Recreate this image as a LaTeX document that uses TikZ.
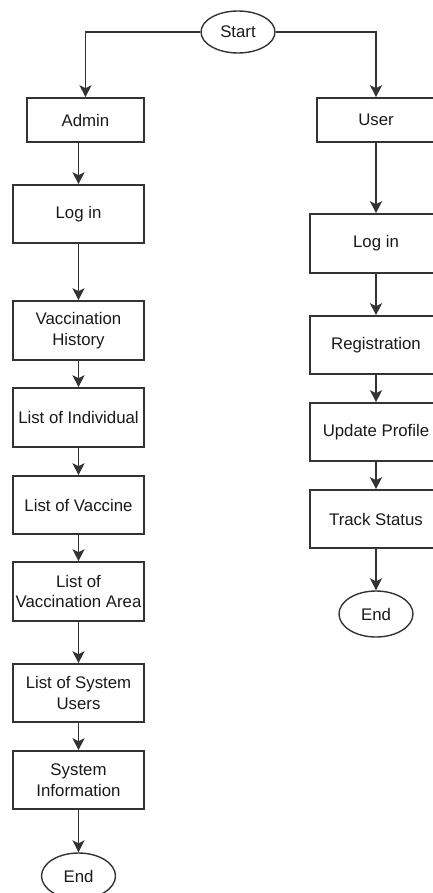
\documentclass[tikz,border=0pt]{standalone}
\usepackage{fontspec}
\setmainfont{Liberation Sans}
\usetikzlibrary{shapes.geometric,arrows.meta}
\begin{document}
\begin{tikzpicture}[x=1pt,y=1pt,
  every node/.style={font=\fontsize{16.8}{20.5}\selectfont, text=black!90, inner sep=0pt, align=center},
  procbox/.style={draw=black!80, line width=1.6pt, rectangle, minimum width=131pt, minimum height=58pt},
  termnode/.style={draw=black!80, line width=1.4pt, ellipse, minimum width=74pt, minimum height=44pt},
  conn/.style={draw=black!80, line width=1.6pt, -{Stealth[length=12pt,width=12pt,inset=3pt]}}]
\useasboundingbox (0,0) rectangle (433,-893);
\node[termnode, minimum height=42pt] (start) at (238,-32) {Start};
\node[procbox, minimum width=117pt, minimum height=44pt] (admin) at (85.5,-120) {Admin};
\node[procbox, minimum width=118pt, minimum height=44pt] (user) at (376,-120) {User};
\node[procbox] (alogin) at (78.5,-214) {Log in};
\node[procbox, minimum height=59pt] (vh) at (78.5,-330.5) {Vaccination\\History};
\node[procbox, minimum height=59pt] (loi) at (78.5,-417.5) {List of Individual};
\node[procbox] (lov) at (78.5,-505) {List of Vaccine};
\node[procbox, minimum height=59pt] (lva) at (78.5,-591.5) {List of\\Vaccination Area};
\node[procbox] (lsu) at (78.5,-693) {List of System\\Users};
\node[procbox] (si) at (78.5,-780) {System\\Information};
\node[termnode, minimum height=46pt] (aend) at (78.5,-876) {End};
\node[procbox, minimum width=132pt, minimum height=59pt] (ulogin) at (376,-243.5) {Log in};
\node[procbox, minimum width=132pt] (reg) at (376,-345) {Registration};
\node[procbox, minimum width=132pt] (up) at (376,-432) {Update Profile};
\node[procbox, minimum width=132pt] (ts) at (376,-519) {Track Status};
\node[termnode, minimum height=46pt] (uend) at (376,-614) {End};
\draw[conn] (start.west) -| (admin.north);
\draw[conn] (start.east) -| (user.north);
\draw[conn] (admin.south -| alogin.north) -- (alogin.north);
\draw[conn] (alogin) -- (vh);
\draw[conn] (vh) -- (loi);
\draw[conn] (loi) -- (lov);
\draw[conn] (lov) -- (lva);
\draw[conn] (lva) -- (lsu);
\draw[conn] (lsu) -- (si);
\draw[conn] (si) -- (aend);
\draw[conn] (user) -- (ulogin);
\draw[conn] (ulogin) -- (reg);
\draw[conn] (reg) -- (up);
\draw[conn] (up) -- (ts);
\draw[conn] (ts) -- (uend);
\end{tikzpicture}
\end{document}
